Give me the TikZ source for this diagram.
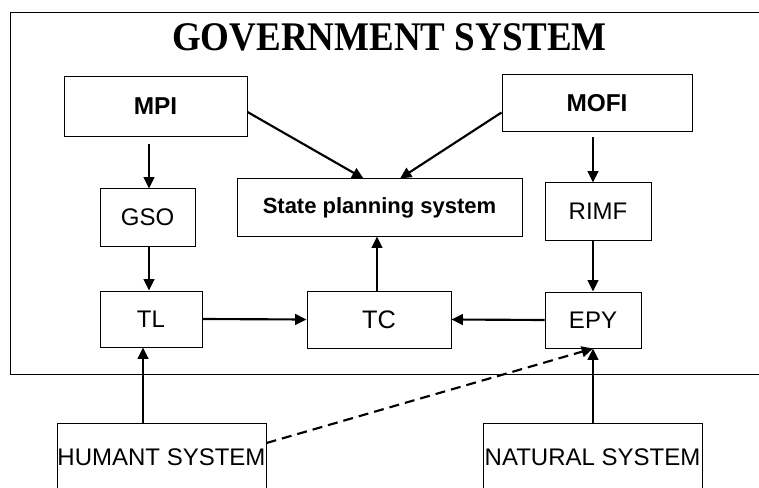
\documentclass[tikz,border=0pt]{standalone}
\usepackage{fontspec}
\setmainfont{Liberation Sans}
\newfontfamily\titlefont[FakeStretch=0.91]{Liberation Serif}
\usetikzlibrary{arrows.meta}

\tikzset{every picture/.style={line width=0.75pt}}
\tikzset{
  box/.style={draw, rectangle, inner sep=0.75pt, align=center},
  arr/.style={line width=1.6pt, -{Triangle[length=8.5pt,width=8pt]}},
  lbl/.style={font=\fontsize{18}{20}\selectfont},
  blbl/.style={font=\bfseries\fontsize{18.3}{20}\selectfont}
}

\begin{document}
\begin{tikzpicture}[x=0.75pt,y=0.75pt,yscale=-1,xscale=1]
\path[use as bounding box, clip] (0,0) rectangle (759,488);

%Shape: Rectangle (government system frame)
\draw (10,13) rectangle (775,374);

% Text Node
\node (title) at (389.5,37) {\titlefont\bfseries\fontsize{30.5}{32}\selectfont GOVERNMENT SYSTEM};

%Shape: Rectangle
\node [box, blbl, minimum width=137.25pt, minimum height=45pt] (mpi) at (155.5,107) {\raisebox{2pt}{MPI}};
%Shape: Rectangle
\node [box, blbl, minimum width=142.5pt, minimum height=42.75pt] (mofi) at (597,103.5) {MOFI};
%Shape: Rectangle
\node [box, lbl, minimum width=71.25pt, minimum height=42.75pt] (gso) at (147.5,217.5) {GSO};
%Shape: Rectangle
\node [box, font=\bfseries\fontsize{16.5}{20}\selectfont, minimum width=213.75pt, minimum height=42.75pt] (state) at (379.5,207.5) {State planning system};
%Shape: Rectangle
\node [box, lbl, minimum width=79.5pt, minimum height=42.75pt] (rimf) at (598,211.5) {RIMF};
%Shape: Rectangle
\node [box, lbl, minimum width=76.5pt, minimum height=42pt] (tl) at (151,319) {TL};
%Shape: Rectangle
\node [box, font=\fontsize{19}{20}\selectfont, minimum width=108pt, minimum height=42.75pt] (tc) at (379,319.5) {TC};
%Shape: Rectangle
\node [box, lbl, minimum width=72pt, minimum height=42pt] (epy) at (593,320) {EPY};
%Shape: Rectangle
\node [box, lbl, inner sep=0pt, minimum width=156.75pt, minimum height=51pt] (human) at (161.5,457) {HUMANT SYSTEM};
%Shape: Rectangle
\node [box, lbl, inner sep=0pt, minimum width=164.25pt, minimum height=51pt] (natural) at (592.5,457) {NATURAL SYSTEM};

%Straight Lines
\draw [arr] ([yshift=5.25pt]mpi.south -| 149,0) -- (gso.north -| 149,0);
%Straight Lines
\draw [arr] (gso.south -| 149,0) -- (tl.north -| 149,0);
%Straight Lines
\draw [arr] (tl.east) -- (tc.west);
%Straight Lines
\draw [arr] (tc.north -| 377,0) -- (state.south -| 377,0);
%Straight Lines
\draw [arr] ([yshift=3.75pt]mpi.east) -- ([xshift=-12pt]state.north);
%Straight Lines
\draw [arr] ([yshift=6.75pt]mofi.west) -- ([xshift=15.4pt]state.north);
%Straight Lines
\draw [arr] ([yshift=3.4pt]mofi.south -| epy) -- (rimf.north -| epy);
%Straight Lines
\draw [arr] (rimf.south -| epy) -- (epy.north);
%Straight Lines
\draw [arr] (epy.west) -- (tc.east);
%Straight Lines
\draw [arr] (natural.north -| epy) -- (epy.south);
%Straight Lines
\draw [arr] (human.north -| 143,0) -- (tl.south -| 143,0);
%Straight Lines
\draw [arr, dash pattern={on 7.5pt off 4.5pt}] ([yshift=-10.5pt]human.east) -- (epy.south);

\end{tikzpicture}
\end{document}
